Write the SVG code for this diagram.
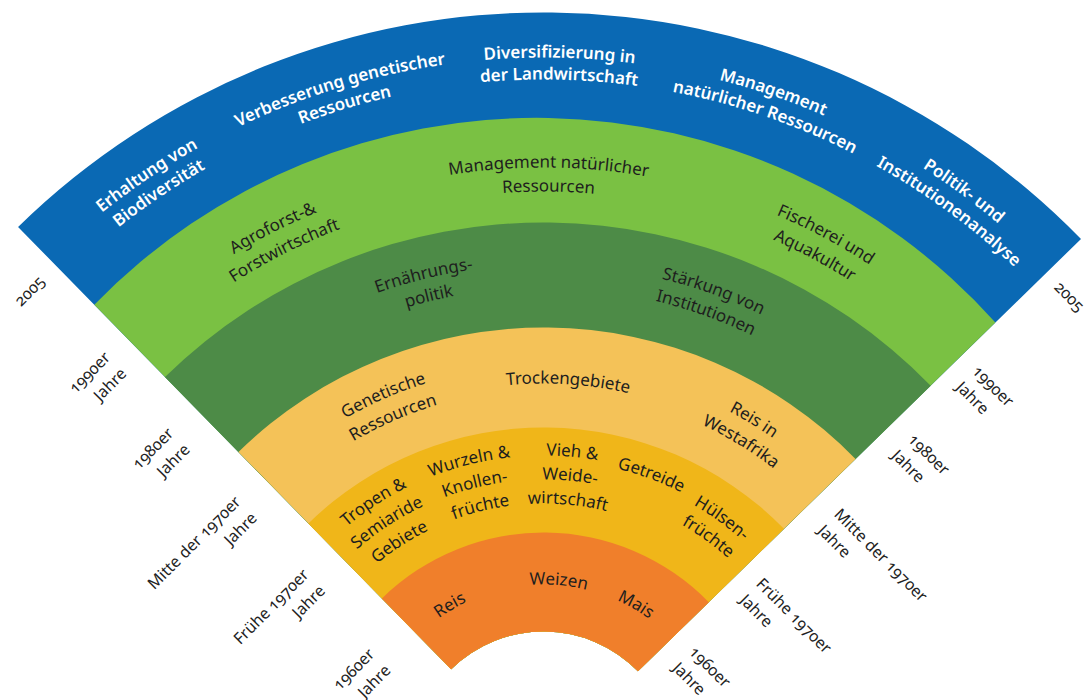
<svg xmlns="http://www.w3.org/2000/svg" width="1086" height="700" viewBox="0 0 1086 700">
<style>
text{font-family:"Noto Sans","Open Sans","DejaVu Sans",sans-serif}
.w{font-size:17px;font-weight:600;fill:#ffffff;text-anchor:middle}
.d{font-size:17px;font-weight:400;fill:#1e1e1e;text-anchor:middle}
.yl,.yr{font-size:16px;fill:#222;font-variant-numeric:oldstyle-nums;font-feature-settings:"onum" 1}
.yl{text-anchor:end}
.yr{text-anchor:start}
</style>
<defs>
<path id="p706" d="M -159.81 701.97 A 706 706 0 0 1 1246.81 701.97"/>
<path id="p684" d="M -137.90 703.89 A 684 684 0 0 1 1224.90 703.89"/>
<path id="p596" d="M -50.23 711.55 A 596 596 0 0 1 1137.23 711.55"/>
<path id="p572" d="M -26.32 713.65 A 572 572 0 0 1 1113.32 713.65"/>
<path id="p499" d="M 46.40 720.01 A 499 499 0 0 1 1040.60 720.01"/>
<path id="p476" d="M 69.31 722.01 A 476 476 0 0 1 1017.69 722.01"/>
<path id="p398" d="M 147.01 728.81 A 398 398 0 0 1 939.99 728.81"/>
<path id="p374" d="M 170.92 730.90 A 374 374 0 0 1 916.08 730.90"/>
<path id="p380" d="M 164.95 730.38 A 380 380 0 0 1 922.05 730.38"/>
<path id="p308" d="M 236.67 736.66 A 308 308 0 0 1 850.33 736.66"/>
<path id="p284" d="M 260.58 738.75 A 284 284 0 0 1 826.42 738.75"/>
<path id="p260" d="M 284.49 740.84 A 260 260 0 0 1 802.51 740.84"/>
<path id="p304" d="M 240.66 737.00 A 304 304 0 0 1 846.34 737.00"/>
<path id="p299" d="M 245.64 737.44 A 299 299 0 0 1 841.36 737.44"/>
<path id="p276" d="M 268.55 739.44 A 276 276 0 0 1 818.45 739.44"/>
<path id="p179" d="M 365.18 747.90 A 179 179 0 0 1 721.82 747.90"/>
</defs>
<rect width="1086" height="700" fill="#ffffff"/>

<g id="band-blue">
<path fill="#0a69b4" d="M 18.06 226.93 A 751 751 0 0 1 1081.0 239.0 L 637.97 671.31 A 132 132 0 0 0 451.14 669.19 Z"/>
<g transform="rotate(-34 543.5 763.5)"><text class="w"><textPath href="#p706" startOffset="50%">Erhaltung von</textPath></text><text class="w"><textPath href="#p684" startOffset="50%">Biodiversität</textPath></text></g>
<g transform="rotate(-16.8 543.5 763.5)"><text class="w"><textPath href="#p706" startOffset="50%">Verbesserung genetischer</textPath></text><text class="w"><textPath href="#p684" startOffset="50%">Ressourcen</textPath></text></g>
<g transform="rotate(1.3 543.5 763.5)"><text class="w"><textPath href="#p706" startOffset="50%">Diversifizierung in</textPath></text><text class="w"><textPath href="#p684" startOffset="50%">der Landwirtschaft</textPath></text></g>
<g transform="rotate(18.9 543.5 763.5)"><text class="w"><textPath href="#p706" startOffset="50%">Management</textPath></text><text class="w"><textPath href="#p684" startOffset="50%">natürlicher Ressourcen</textPath></text></g>
<g transform="rotate(36.3 543.5 763.5)"><text class="w"><textPath href="#p706" startOffset="50%">Politik- und</textPath></text><text class="w"><textPath href="#p684" startOffset="50%">Institutionenanalyse</textPath></text></g>
</g>

<g id="band-lightgreen">
<path fill="#7ac143" d="M 94.3 304.8 A 616.7 616.7 0 0 1 995.4 322.5 L 637.97 671.31 A 132 132 0 0 0 451.14 669.19 Z"/>
<g transform="rotate(-26.8 543.5 763.5)"><text class="d"><textPath href="#p596" startOffset="50%">Agroforst-&amp;</textPath></text><text class="d"><textPath href="#p572" startOffset="50%">Forstwirtschaft</textPath></text></g>
<g transform="rotate(0.5 543.5 763.5)"><text class="d"><textPath href="#p596" startOffset="50%">Management natürlicher</textPath></text><text class="d"><textPath href="#p572" startOffset="50%">Ressourcen</textPath></text></g>
<g transform="rotate(28.1 543.5 763.5)"><text class="d"><textPath href="#p596" startOffset="50%">Fischerei und</textPath></text><text class="d"><textPath href="#p572" startOffset="50%">Aquakultur</textPath></text></g>
</g>

<g id="band-darkgreen">
<path fill="#4d8b47" d="M 164.98 376.97 A 541 541 0 0 1 930.69 385.65 L 637.97 671.31 A 132 132 0 0 0 451.14 669.19 Z"/>
<g transform="rotate(-13.8 543.5 763.5)"><text class="d"><textPath href="#p499" startOffset="50%">Ernährungs-</textPath></text><text class="d"><textPath href="#p476" startOffset="50%">politik</textPath></text></g>
<g transform="rotate(19.8 543.5 763.5)"><text class="d"><textPath href="#p499" startOffset="50%">Stärkung von</textPath></text><text class="d"><textPath href="#p476" startOffset="50%">Institutionen</textPath></text></g>
</g>

<g id="band-lightorange">
<path fill="#f4c258" d="M 238.45 451.99 A 436 436 0 0 1 855.54 458.99 L 637.97 671.31 A 132 132 0 0 0 451.14 669.19 Z"/>
<g transform="rotate(-23.5 543.5 763.5)"><text class="d"><textPath href="#p398" startOffset="50%">Genetische</textPath></text><text class="d"><textPath href="#p374" startOffset="50%">Ressourcen</textPath></text></g>
<g transform="rotate(3.7 543.5 763.5)"><text class="d"><textPath href="#p380" startOffset="50%">Trockengebiete</textPath></text></g>
<g transform="rotate(31.5 543.5 763.5)"><text class="d"><textPath href="#p398" startOffset="50%">Reis in</textPath></text><text class="d"><textPath href="#p374" startOffset="50%">Westafrika</textPath></text></g>
</g>

<g id="band-amber">
<path fill="#f0b619" d="M 308.41 523.44 A 336 336 0 0 1 783.97 528.83 L 637.97 671.31 A 132 132 0 0 0 451.14 669.19 Z"/>
<g transform="rotate(-33 543.5 763.5)"><text class="d"><textPath href="#p308" startOffset="50%">Tropen &amp;</textPath></text><text class="d"><textPath href="#p284" startOffset="50%">Semiaride</textPath></text><text class="d"><textPath href="#p260" startOffset="50%">Gebiete</textPath></text></g>
<g transform="rotate(-13.8 543.5 763.5)"><text class="d"><textPath href="#p308" startOffset="50%">Wurzeln &amp;</textPath></text><text class="d"><textPath href="#p284" startOffset="50%">Knollen-</textPath></text><text class="d"><textPath href="#p260" startOffset="50%">früchte</textPath></text></g>
<g transform="rotate(5.3 543.5 763.5)"><text class="d"><textPath href="#p308" startOffset="50%">Vieh &amp;</textPath></text><text class="d"><textPath href="#p284" startOffset="50%">Weide-</textPath></text><text class="d"><textPath href="#p260" startOffset="50%">wirtschaft</textPath></text></g>
<g transform="rotate(20.5 543.5 763.5)"><text class="d"><textPath href="#p304" startOffset="50%">Getreide</textPath></text></g>
<g transform="rotate(36 543.5 763.5)"><text class="d"><textPath href="#p299" startOffset="50%">Hülsen-</textPath></text><text class="d"><textPath href="#p276" startOffset="50%">früchte</textPath></text></g>
</g>

<g id="band-orange">
<path fill="#f07f2b" d="M 381.88 598.46 A 231 231 0 0 1 708.82 602.16 L 637.97 671.31 A 132 132 0 0 0 451.14 669.19 Z"/>
<g transform="rotate(-30.6 543.5 763.5)"><text class="d"><textPath href="#p179" startOffset="50%">Reis</textPath></text></g>
<g transform="rotate(4.8 543.5 763.5)"><text class="d"><textPath href="#p179" startOffset="50%">Weizen</textPath></text></g>
<g transform="rotate(30.2 543.5 763.5)"><text class="d"><textPath href="#p179" startOffset="50%">Mais</textPath></text></g>
</g>

<g id="years-left">
<g id="yl-2005" transform="translate(45.8 282.4) rotate(-45)"><text class="yl">2005</text></g>
<g id="yl-1990" transform="translate(111.2 358.4) rotate(-45)"><text class="yl"><tspan x="0" y="0">1990er</tspan><tspan x="0" y="23">Jahre</tspan></text></g>
<g id="yl-1980" transform="translate(174.5 434.4) rotate(-45)"><text class="yl"><tspan x="0" y="0">1980er</tspan><tspan x="0" y="23">Jahre</tspan></text></g>
<g id="yl-1975" transform="translate(241.7 502.8) rotate(-45)"><text class="yl"><tspan x="0" y="0">Mitte der 1970er</tspan><tspan x="0" y="23">Jahre</tspan></text></g>
<g id="yl-1970" transform="translate(309.8 575.6) rotate(-45)"><text class="yl"><tspan x="0" y="0">Frühe 1970er</tspan><tspan x="0" y="23">Jahre</tspan></text></g>
<g id="yl-1960" transform="translate(375.4 655.2) rotate(-45)"><text class="yl"><tspan x="0" y="0">1960er</tspan><tspan x="0" y="23">Jahre</tspan></text></g>
</g>

<g id="years-right">
<g id="yr-2005" transform="translate(1053.2 287.9) rotate(45)"><text class="yr">2005</text></g>
<g id="yr-1990" transform="translate(971.3 371.9) rotate(45)"><text class="yr"><tspan x="0" y="0">1990er</tspan><tspan x="0" y="23">Jahre</tspan></text></g>
<g id="yr-1980" transform="translate(907.1 440.2) rotate(45)"><text class="yr"><tspan x="0" y="0">1980er</tspan><tspan x="0" y="23">Jahre</tspan></text></g>
<g id="yr-1975" transform="translate(833.2 515.3) rotate(45)"><text class="yr"><tspan x="0" y="0">Mitte der 1970er</tspan><tspan x="0" y="23">Jahre</tspan></text></g>
<g id="yr-1970" transform="translate(755.2 584.8) rotate(45)"><text class="yr"><tspan x="0" y="0">Frühe 1970er</tspan><tspan x="0" y="23">Jahre</tspan></text></g>
<g id="yr-1960" transform="translate(688 652.7) rotate(45)"><text class="yr"><tspan x="0" y="0">1960er</tspan><tspan x="0" y="23">Jahre</tspan></text></g>
</g>
</svg>
